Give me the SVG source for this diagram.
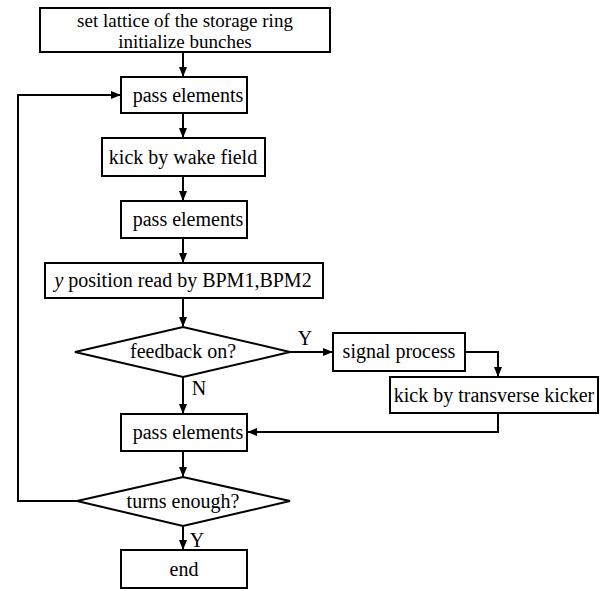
<svg xmlns="http://www.w3.org/2000/svg" width="600" height="591" viewBox="0 0 600 591">
<style>
.box{fill:#fff;stroke:#000;stroke-width:2}
.t{font-family:"Liberation Serif","Times New Roman",serif;font-size:20px;fill:#000;text-anchor:middle}
.s{font-size:19px}
.c{fill:none;stroke:#000;stroke-width:2}
</style>
<defs>
<marker id="a" markerWidth="10" markerHeight="10" refX="9" refY="5" orient="auto" markerUnits="userSpaceOnUse">
<path d="M0,1 L10,5 L0,9 Z" fill="#000"/>
</marker>
</defs>
<rect width="600" height="591" fill="#fff"/>
<g id="connectors">
<path class="c" d="M183,52 V76" marker-end="url(#a)"/>
<path class="c" d="M183,113 V137" marker-end="url(#a)"/>
<path class="c" d="M183,176 V200" marker-end="url(#a)"/>
<path class="c" d="M183,238 V262" marker-end="url(#a)"/>
<path class="c" d="M183,298 V326" marker-end="url(#a)"/>
<path class="c" d="M290,352 H332" marker-end="url(#a)"/>
<path class="c" d="M465,352 H498 V376" marker-end="url(#a)"/>
<path class="c" d="M498,413 V432 H248" marker-end="url(#a)"/>
<path class="c" d="M183,377 V413" marker-end="url(#a)"/>
<path class="c" d="M183,451 V476" marker-end="url(#a)"/>
<path class="c" d="M183,526 V549" marker-end="url(#a)"/>
<path class="c" d="M77,501 H18 V95 H120" marker-end="url(#a)"/>
<text class="t" x="305" y="345">Y</text>
<text class="t" x="199" y="395">N</text>
<text class="t" x="197" y="547">Y</text>
</g>
<g id="n1"><rect class="box" x="40" y="8" width="290" height="44"/><text class="t s" x="185" y="27">set lattice of the storage ring</text><text class="t s" x="185" y="48">initialize bunches</text></g>
<g id="n2"><rect class="box" x="121" y="77" width="126" height="36"/><text class="t" x="188" y="102">pass elements</text></g>
<g id="n3"><rect class="box" x="102" y="138" width="163" height="38"/><text class="t" x="183" y="164">kick by wake field</text></g>
<g id="n4"><rect class="box" x="121" y="201" width="126" height="37"/><text class="t" x="188" y="226">pass elements</text></g>
<g id="n5"><rect class="box" x="45" y="263" width="278" height="35"/><text class="t" x="183" y="287"><tspan font-style="italic">y</tspan> position read by BPM1,BPM2</text></g>
<g id="n6"><polygon class="box" points="75,352 183,327 290,352 183,377"/><text class="t" x="183" y="358">feedback on?</text></g>
<g id="n7"><rect class="box" x="333" y="333" width="132" height="38"/><text class="t" x="399" y="358">signal process</text></g>
<g id="n8"><rect class="box" x="390" y="377" width="208" height="36"/><text class="t" x="494" y="402">kick by transverse kicker</text></g>
<g id="n9"><rect class="box" x="121" y="414" width="126" height="37"/><text class="t" x="188" y="439">pass elements</text></g>
<g id="n10"><polygon class="box" points="77,501 183,477 290,501 183,526"/><text class="t" x="183" y="508">turns enough?</text></g>
<g id="n11"><rect class="box" x="121" y="550" width="126" height="38"/><text class="t" x="184" y="576">end</text></g>
</svg>
